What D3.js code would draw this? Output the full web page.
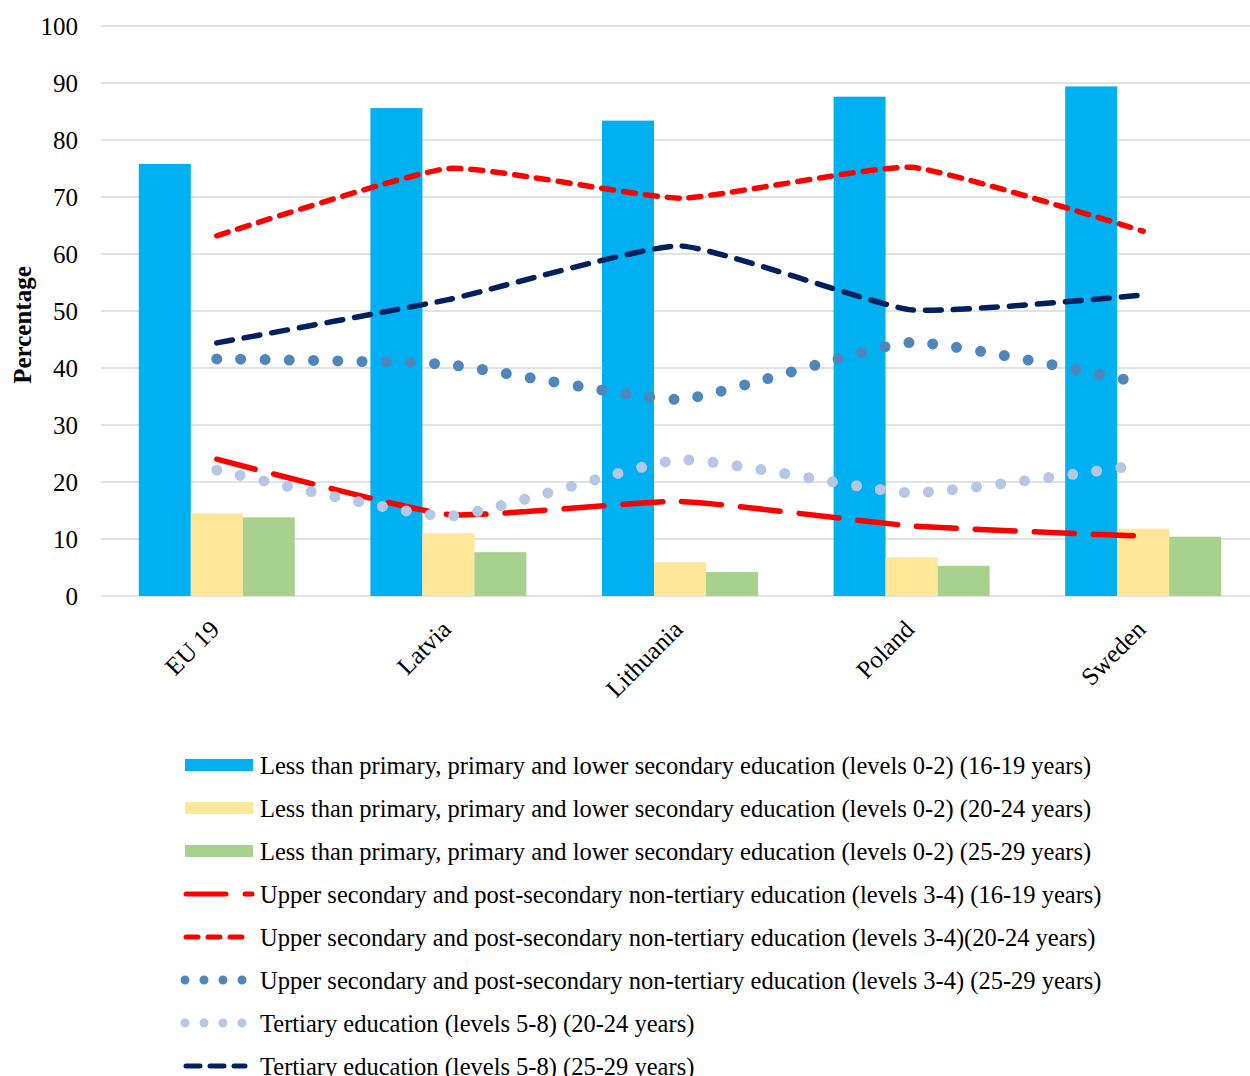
<!DOCTYPE html>
<html>
<head>
<meta charset="utf-8">
<script src="https://cdn.jsdelivr.net/npm/d3@7"></script>
<style>
  html, body { margin: 0; padding: 0; background: #fff; }
  svg { display: block; font-family: "Liberation Serif", "Times New Roman", serif; }
</style>
</head>
<body>
<svg id="chart" width="1250" height="1076"></svg>
<script>
// Countries on the x axis
const categories = ["EU 19", "Latvia", "Lithuania", "Poland", "Sweden"];

// Bar series: levels 0-2 by age group
const barNames = [
  "Less than primary, primary and lower secondary education (levels 0-2) (16-19 years)",
  "Less than primary, primary and lower secondary education (levels 0-2) (20-24 years)",
  "Less than primary, primary and lower secondary education (levels 0-2) (25-29 years)"
];
const lowSec1619 = [75.8, 85.6, 83.4, 87.6, 89.4];
const lowSec2024 = [14.5, 11.0, 5.9, 6.8, 11.8];
const lowSec2529 = [13.8, 7.7, 4.2, 5.3, 10.4];

// Line series
const lineNames = [
  "Upper secondary and post-secondary non-tertiary education (levels 3-4) (16-19 years)",
  "Upper secondary and post-secondary non-tertiary education (levels 3-4)(20-24 years)",
  "Upper secondary and post-secondary non-tertiary education (levels 3-4) (25-29 years)",
  "Tertiary education (levels 5-8) (20-24 years)",
  "Tertiary education (levels 5-8) (25-29 years)"
];
const upSec1619 = [24.0, 14.3, 16.6, 12.3, 10.5];
const upSec2024 = [63.2, 75.0, 69.8, 75.2, 64.0];
const upSec2529 = [41.6, 40.6, 34.5, 44.5, 37.3];
const tert2024 = [22.1, 14.0, 23.9, 18.1, 23.1];
const tert2529 = [44.4, 52.0, 61.4, 50.2, 52.8];

const yTicks = [0, 10, 20, 30, 40, 50, 60, 70, 80, 90, 100];
const yTitle = "Percentage";

const barSeries = [
  { name: barNames[0], values: lowSec1619, color: "#00B0F0" },
  { name: barNames[1], values: lowSec2024, color: "#FFE699" },
  { name: barNames[2], values: lowSec2529, color: "#A9D18E" }
];
const lineSeries = [
  { name: lineNames[0], values: upSec1619, color: "#FF0000", width: 5.5, dash: "40 19" },
  { name: lineNames[1], values: upSec2024, color: "#FF0000", width: 5.5, dash: "12 10" },
  { name: lineNames[2], values: upSec2529, color: "#4F87BD", width: 11, dash: "0 24.2" },
  { name: lineNames[3], values: tert2024, color: "#B4C7E7", width: 11, dash: "0 24.2" },
  { name: lineNames[4], values: tert2529, color: "#002060", width: 5.5, dash: "16 12" }
];

const svg = d3.select("#chart");
const plot = { left: 101, right: 1259, top: 26, bottom: 596 };

const x = d3.scaleBand().domain(categories).range([plot.left, plot.right]).paddingInner(0).paddingOuter(0);
const xInner = d3.scaleBand().domain(d3.range(barSeries.length)).range([0, x.bandwidth()]).paddingOuter(0.727).paddingInner(0);
const y = d3.scaleLinear().domain([0, 100]).range([plot.bottom, plot.top]);

// Horizontal gridlines
svg.append("g")
  .selectAll("line")
  .data(yTicks)
  .join("line")
  .attr("x1", plot.left)
  .attr("x2", 1250)
  .attr("y1", d => y(d))
  .attr("y2", d => y(d))
  .attr("stroke", "#D9D9D9")
  .attr("stroke-width", 1.5);

// Y axis labels
const yAxis = d3.axisLeft(y).tickValues(yTicks).tickSize(0).tickPadding(0);
const gy = svg.append("g").attr("transform", `translate(78,0)`).call(yAxis);
gy.select(".domain").remove();
gy.selectAll("text")
  .attr("font-family", "Liberation Serif, Times New Roman, serif")
  .attr("font-size", 25)
  .attr("fill", "#000");

// Y axis title
svg.append("text")
  .attr("transform", `translate(31,325) rotate(-90)`)
  .attr("text-anchor", "middle")
  .attr("font-size", 25)
  .attr("font-weight", "bold")
  .text(yTitle);

// Bars
barSeries.forEach((s, i) => {
  svg.append("g")
    .selectAll("rect")
    .data(s.values)
    .join("rect")
    .attr("x", (d, j) => x(categories[j]) + xInner(i))
    .attr("y", d => y(d))
    .attr("width", xInner.bandwidth())
    .attr("height", d => y(0) - y(d))
    .attr("fill", s.color);
});

// X axis labels, rotated
const xAxis = d3.axisBottom(x).tickSize(0).tickPadding(0);
const gx = svg.append("g").attr("transform", `translate(0,${plot.bottom})`).call(xAxis);
gx.select(".domain").remove();
gx.selectAll("text")
  .attr("font-family", "Liberation Serif, Times New Roman, serif")
  .attr("font-size", 25)
  .attr("fill", "#000")
  .attr("text-anchor", "end")
  .attr("dy", "0")
  .attr("transform", "translate(4,35) rotate(-45)");

// Smoothed lines through category centres
const line = d3.line()
  .x((d, j) => x(categories[j]) + x.bandwidth() / 2)
  .y(d => y(d))
  .curve(d3.curveCardinal.tension(0.55));

lineSeries.forEach(s => {
  svg.append("path")
    .datum(s.values)
    .attr("d", line)
    .attr("fill", "none")
    .attr("stroke", s.color)
    .attr("stroke-width", s.width)
    .attr("stroke-dasharray", s.dash)
    .attr("stroke-linecap", "round");
});

// Legend
const legend = svg.append("g");
const legendTop = 765, legendStep = 43;
const items = barSeries.map(s => ({ type: "bar", ...s })).concat(lineSeries.map(s => ({ type: "line", ...s })));
items.forEach((it, i) => {
  const cy = legendTop + i * legendStep;
  const g = legend.append("g");
  if (it.type === "bar") {
    g.append("rect").attr("x", 185).attr("y", cy - 6).attr("width", 68).attr("height", 12).attr("fill", it.color);
  } else {
    let dash = it.dash;
    let x1 = 186, x2 = 252;
    if (i === 3) { dash = "40 19"; x1 = 186; x2 = 252; }
    if (i === 4) { dash = "12 10"; x1 = 186; x2 = 252; }
    if (i === 5 || i === 6) { dash = "0 19"; x1 = 185; x2 = 243; }
    if (i === 7) { dash = "14 10"; x1 = 186; x2 = 245; }
    g.append("line")
      .attr("x1", x1).attr("x2", x2).attr("y1", cy).attr("y2", cy)
      .attr("stroke", it.color)
      .attr("stroke-width", (i === 5 || i === 6) ? 9 : 5)
      .attr("stroke-dasharray", dash)
      .attr("stroke-linecap", "round");
  }
  g.append("text")
    .attr("x", 260)
    .attr("y", cy)
    .attr("dy", "0.35em")
    .attr("font-size", 24.5)
    .attr("fill", "#000")
    .text(it.name);
});
</script>
</body>
</html>
